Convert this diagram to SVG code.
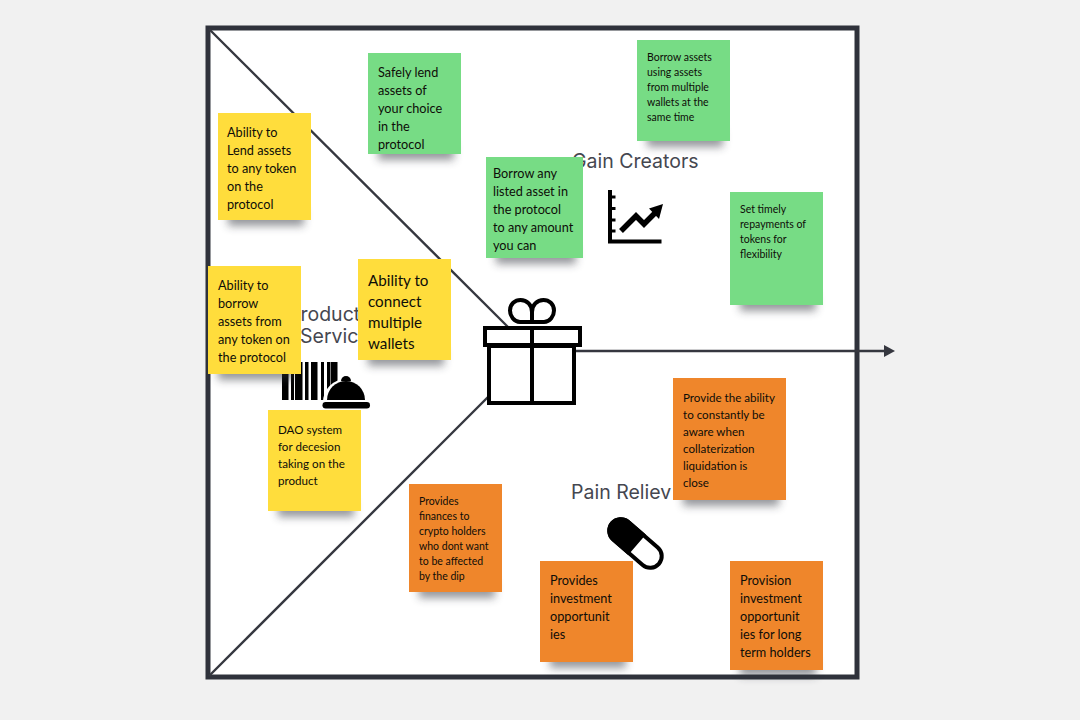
<svg xmlns="http://www.w3.org/2000/svg" width="1080" height="720" viewBox="0 0 1080 720">
<style>
.t{font-family:"Lato","Liberation Sans",sans-serif;fill:#0e0d08}
.f12{font-size:12.7px}.f14{font-size:15.2px}.f11{font-size:11.6px}.f10{font-size:10.5px}
.title{font-family:"Inter","Liberation Sans",sans-serif;font-size:19.5px;fill:#454750}
.y{fill:#ffdd3c}.g{fill:#77dc85}.o{fill:#ef862b}
.sh{fill:#2f323b;opacity:.5;filter:url(#b)}
.line{stroke:#35373f;stroke-width:2.4;fill:none}
.ic{stroke:#000;stroke-width:4;fill:none}
</style>
<defs>
<filter id="b" x="-30%" y="-100%" width="160%" height="300%"><feGaussianBlur stdDeviation="4.500"/></filter>
<marker id="ah" markerUnits="userSpaceOnUse" markerWidth="13" markerHeight="14" refX="1" refY="7" orient="auto"><path d="M0 1L11 7L0 13Z" fill="#35373f"/></marker>
</defs>
<rect width="1080" height="720" fill="#f1f1f1"/>
<rect x="208" y="28" width="649" height="649" fill="#fff" stroke="#2f323b" stroke-width="5"/>
<g id="connectors">
<path class="line" d="M209 29L508 327"/>
<path class="line" d="M209 676L489 396"/>
<path class="line" d="M576 351H885" marker-end="url(#ah)"/>
</g>
<g id="gift-icon">
<rect x="489" y="346" width="85" height="57" fill="#fff" stroke="#000" stroke-width="4"/>
<rect x="485" y="328" width="95" height="17" fill="#fff" stroke="#000" stroke-width="4"/>
<path class="ic" d="M532 328V403"/>
<path class="ic" d="M532 322H520C514 322 510 316 510 310.500C510 304 515 300 520.500 300C527 300 532 305 532 312V322H544C550 322 554 316 554 310.500C554 304 549 300 543.500 300C537 300 532 305 532 312"/>
</g>
<g id="gain-creators">
<text class="title" x="572" y="168">Gain Creators</text>
<path d="M610 190V241.500H661.500" fill="none" stroke="#000" stroke-width="4"/>
<path d="M610 197H615.500M610 208.500H615.500M610 220H615.500M610 231H615.500" stroke="#000" stroke-width="3.200"/>
<path d="M621 231L636 216L644 224L655 213" fill="none" stroke="#000" stroke-width="5.500"/>
<path d="M663 204L649 208.500L659 219Z" fill="#000"/>
</g>
<g id="products-services">
<text class="title" x="288" y="321">Product</text>
<text class="title" x="300" y="343">Service</text>
<path d="M282 362h6.500v38h-6.500zM291 362h3v38h-3zM295 362h7.500v38h-7.500zM305 362h3.500v38h-3.500zM311 362h6.500v38h-6.500zM321 362h3v38h-3zM327 362h3.500v38h-3.500zM331 362h6.500v38h-6.500z" fill="#000"/>
<path d="M323 402A23 23 0 0 1 369 402Z" fill="#fff"/>
<path d="M327 400A19 19 0 0 1 365 400Z" fill="#000"/>
<path d="M341 381A5 5 0 0 1 351 381Z" fill="#000"/>
<rect x="321" y="400" width="50" height="9.500" rx="4.700" fill="#fff"/>
<rect x="322.500" y="402" width="47.500" height="6.500" rx="3.200" fill="#000"/>
</g>
<g id="pain-relievers">
<text class="title" x="571" y="499">Pain Reliev</text>
<g transform="translate(635.500 543.500) rotate(41)">
<rect x="-31" y="-11.500" width="62" height="23" rx="11.500" fill="#fff" stroke="#000" stroke-width="4"/>
<path d="M0 -11.500H-19.500A11.500 11.500 0 0 0 -19.500 11.500H0Z" fill="#000" stroke="#000" stroke-width="4"/>
</g>
</g>
<g id="note-lend">
<rect class="sh" x="228" y="208" width="76" height="18"/><rect class="y" x="218" y="113" width="93" height="107"/>
<text class="t f12"><tspan x="227" y="136.500">Ability to</tspan><tspan x="227" y="154.500">Lend assets</tspan><tspan x="227" y="172.500">to any token</tspan><tspan x="227" y="190.500">on the</tspan><tspan x="227" y="208.500">protocol</tspan></text>
</g>
<g id="note-safely">
<rect class="sh" x="378" y="142" width="76" height="18"/><rect class="g" x="368" y="53" width="93" height="101"/>
<text class="t f12"><tspan x="378" y="76.500">Safely lend</tspan><tspan x="378" y="94.500">assets of</tspan><tspan x="378" y="112.500">your choice</tspan><tspan x="378" y="130.500">in the</tspan><tspan x="378" y="148.500">protocol</tspan></text>
</g>
<g id="note-borrow">
<rect class="sh" x="218" y="362" width="76" height="18"/><rect class="y" x="208" y="266" width="93" height="108"/>
<text class="t f12"><tspan x="218" y="289.500">Ability to</tspan><tspan x="218" y="307.500">borrow</tspan><tspan x="218" y="325.500">assets from</tspan><tspan x="218" y="343.500">any token on</tspan><tspan x="218" y="361.500">the protocol</tspan></text>
</g>
<g id="note-connect">
<rect class="sh" x="368" y="348" width="76" height="18"/><rect class="y" x="358" y="259" width="93" height="101"/>
<text class="t f14"><tspan x="368" y="285.500">Ability to</tspan><tspan x="368" y="306.500">connect</tspan><tspan x="368" y="327.500">multiple</tspan><tspan x="368" y="348.500">wallets</tspan></text>
</g>
<g id="note-dao">
<rect class="sh" x="278" y="499" width="76" height="18"/><rect class="y" x="268" y="410" width="93" height="101"/>
<text class="t f11"><tspan x="278" y="433.500">DAO system</tspan><tspan x="278" y="450.500">for decesion</tspan><tspan x="278" y="467.500">taking on the</tspan><tspan x="278" y="484.500">product</tspan></text>
</g>
<g id="note-multi">
<rect class="sh" x="647" y="129" width="76" height="18"/><rect class="g" x="637" y="40" width="93" height="101"/>
<text class="t f10"><tspan x="647" y="61">Borrow assets</tspan><tspan x="647" y="76">using assets</tspan><tspan x="647" y="91">from multiple</tspan><tspan x="647" y="106">wallets at the</tspan><tspan x="647" y="121">same time</tspan></text>
</g>
<g id="note-any">
<rect class="sh" x="496" y="246" width="80" height="18"/><rect class="g" x="486" y="157" width="97" height="101"/>
<text class="t f12"><tspan x="493" y="177.500">Borrow any</tspan><tspan x="493" y="195.500">listed asset in</tspan><tspan x="493" y="213.500">the protocol</tspan><tspan x="493" y="231.500">to any amount</tspan><tspan x="493" y="249.500">you can</tspan></text>
</g>
<g id="note-repay">
<rect class="sh" x="740" y="293" width="76" height="18"/><rect class="g" x="730" y="192" width="93" height="113"/>
<text class="t f10"><tspan x="740" y="213">Set timely</tspan><tspan x="740" y="228">repayments of</tspan><tspan x="740" y="243">tokens for</tspan><tspan x="740" y="258">flexibility</tspan></text>
</g>
<g id="note-aware">
<rect class="sh" x="683" y="488" width="96" height="18"/><rect class="o" x="673" y="378" width="113" height="122"/>
<text class="t f11"><tspan x="683" y="401.500">Provide the ability</tspan><tspan x="683" y="418.500">to constantly be</tspan><tspan x="683" y="435.500">aware when</tspan><tspan x="683" y="452.500">collaterization</tspan><tspan x="683" y="469.500">liquidation is</tspan><tspan x="683" y="486.500">close</tspan></text>
</g>
<g id="note-finances">
<rect class="sh" x="419" y="580" width="76" height="18"/><rect class="o" x="409" y="484" width="93" height="108"/>
<text class="t f10"><tspan x="419" y="505">Provides</tspan><tspan x="419" y="520">finances to</tspan><tspan x="419" y="535">crypto holders</tspan><tspan x="419" y="550">who dont want</tspan><tspan x="419" y="565">to be affected</tspan><tspan x="419" y="580">by the dip</tspan></text>
</g>
<g id="note-invest">
<rect class="sh" x="550" y="650" width="76" height="18"/><rect class="o" x="540" y="561" width="93" height="101"/>
<text class="t f12"><tspan x="550" y="584.500">Provides</tspan><tspan x="550" y="602.500">investment</tspan><tspan x="550" y="620.500">opportunit</tspan><tspan x="550" y="638.500">ies</tspan></text>
</g>
<g id="note-longterm">
<rect class="sh" x="740" y="658" width="76" height="18"/><rect class="o" x="730" y="561" width="93" height="109"/>
<text class="t f12"><tspan x="740" y="584.500">Provision</tspan><tspan x="740" y="602.500">investment</tspan><tspan x="740" y="620.500">opportunit</tspan><tspan x="740" y="638.500">ies for long</tspan><tspan x="740" y="656.500">term holders</tspan></text>
</g>
</svg>
